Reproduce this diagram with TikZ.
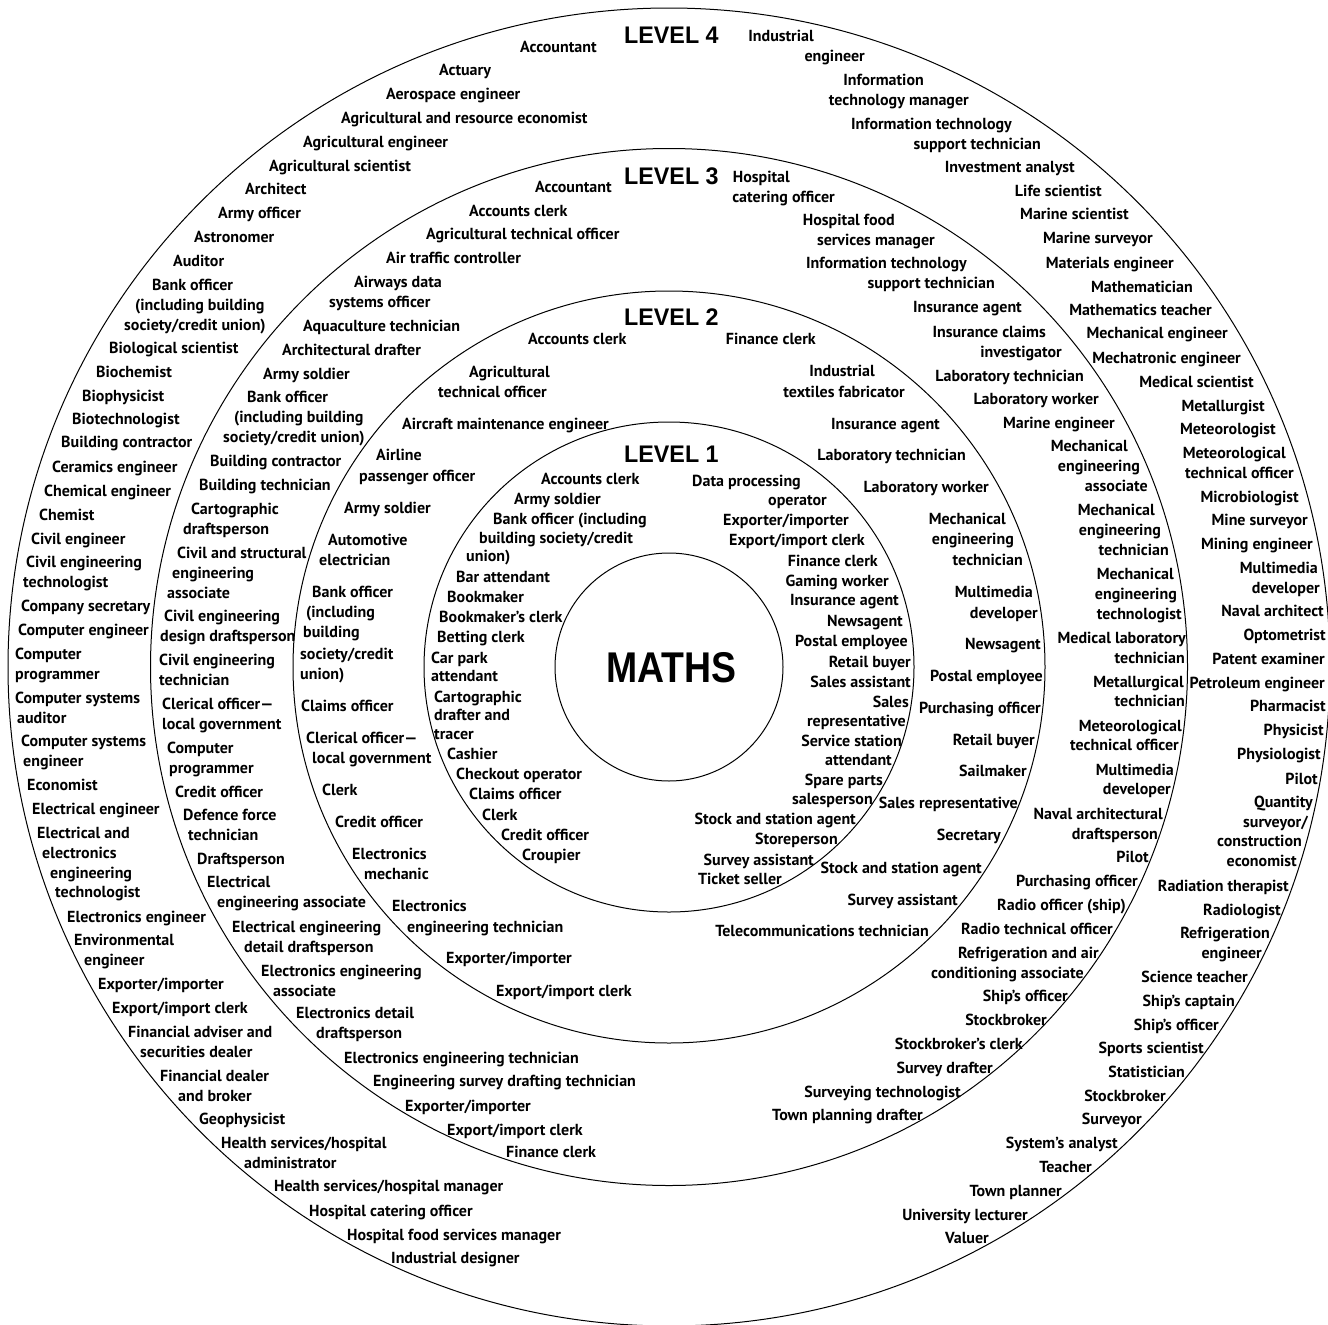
\documentclass[tikz,border=0pt]{standalone}
\usepackage{fontspec}
\setmainfont{PT Sans}
\newfontfamily\lvfont{Liberation Sans}
\tikzset{
  lblw/.style={anchor=base west, inner sep=0pt, font=\bfseries\fontsize{16}{18}\selectfont},
  lble/.style={anchor=base east, inner sep=0pt, font=\bfseries\fontsize{16}{18}\selectfont},
  lvl/.style={anchor=base west, inner sep=0pt, font=\lvfont\bfseries\fontsize{24}{24}\selectfont},
  ring/.style={line width=1pt, draw=black}
}
\begin{document}
\begin{tikzpicture}[x=1pt,y=-1pt]
\useasboundingbox (0,0) rectangle (1328,1325);
\coordinate (ctr) at (669,667);
\draw[ring] (ctr) ellipse [x radius=661, y radius=659];
\draw[ring] (ctr) circle [radius=518.5];
\draw[ring] (ctr) circle [radius=376];
\draw[ring] (ctr) circle [radius=245];
\draw[ring] (ctr) circle [radius=114];

\node[lvl] (lv4) at (624,43) {\scalebox{0.97}[1]{LEVEL 4}};
\node[lvl] (lv3) at (624,184) {\scalebox{0.97}[1]{LEVEL 3}};
\node[lvl] (lv2) at (624,325) {\scalebox{0.97}[1]{LEVEL 2}};
\node[lvl] (lv1) at (624,462) {\scalebox{0.97}[1]{LEVEL 1}};
\node[anchor=base west, inner sep=0pt, font=\lvfont\bfseries\fontsize{43}{43}\selectfont] (maths) at (606,682) {\scalebox{0.87}[1]{MATHS}};

% Level 4, left side
\foreach \x/\y/\s [count=\i] in {
520/52/{Accountant}, 439/75/{Actuary}, 386/99/{Aerospace engineer},
341/123/{Agricultural and resource economist}, 303/147/{Agricultural engineer},
269/171/{Agricultural scientist}, 245/194/{Architect}, 218/218/{Army officer},
194/242/{Astronomer}, 173/266/{Auditor}, 152/290/{Bank officer},
135/310/{(including building}, 124/330/{society/credit union)},
109/353/{Biological scientist}, 96/377/{Biochemist}, 82/401/{Biophysicist},
72/424/{Biotechnologist}, 61/447/{Building contractor}, 52/472/{Ceramics engineer},
44/496/{Chemical engineer}, 39/520/{Chemist}, 31/544/{Civil engineer},
26/567/{Civil engineering}, 23/587/{technologist}, 21/611/{Company secretary},
18/635/{Computer engineer}, 15/659/{Computer}, 15/679/{programmer},
15/703/{Computer systems}, 17/723/{auditor}, 21/746/{Computer systems},
23/766/{engineer}, 27/790/{Economist}, 32/814/{Electrical engineer},
37/838/{Electrical and}, 42/858/{electronics}, 50/878/{engineering},
55/897/{technologist}, 67/922/{Electronics engineer}, 74/945/{Environmental},
84/965/{engineer}, 98/989/{Exporter/importer}, 112/1013/{Export/import clerk},
128/1037/{Financial adviser and}, 140/1057/{securities dealer},
160/1081/{Financial dealer}, 178/1101/{and broker}, 199/1124/{Geophysicist},
221/1148/{Health services/hospital}, 244/1168/{administrator},
274/1191/{Health services/hospital manager}, 309/1216/{Hospital catering officer},
347/1240/{Hospital food services manager}, 391/1263/{Industrial designer}}
  {\node[lblw] (a\i) at (\x,\y) {\s};}

% Level 4, right side
\foreach \x/\y/\s [count=\i] in {
814/41/{Industrial}, 865/61/{engineer}, 924/85/{Information},
969/105/{technology manager}, 1012/129/{Information technology},
1041/149/{support technician}, 1075/172/{Investment analyst},
1102/196/{Life scientist}, 1129/219/{Marine scientist}, 1153/243/{Marine surveyor},
1174/268/{Materials engineer}, 1193/292/{Mathematician},
1212/315/{Mathematics teacher}, 1228/338/{Mechanical engineer},
1241/363/{Mechatronic engineer}, 1254/387/{Medical scientist},
1265/411/{Metallurgist}, 1276/434/{Meteorologist}, 1286/458/{Meteorological},
1294/478/{technical officer}, 1299/502/{Microbiologist}, 1308/525/{Mine surveyor},
1313/549/{Mining engineer}, 1318/573/{Multimedia}, 1320/593/{developer},
1324/616/{Naval architect}, 1326/640/{Optometrist}, 1325/664/{Patent examiner},
1325/688/{Petroleum engineer}, 1326/711/{Pharmacist}, 1324/735/{Physicist},
1321/759/{Physiologist}, 1318/784/{Pilot}, 1313/807/{Quantity},
1308/827/{surveyor/}, 1302/846/{construction}, 1297/866/{economist},
1289/891/{Radiation therapist}, 1281/915/{Radiologist}, 1270/938/{Refrigeration},
1262/958/{engineer}, 1248/982/{Science teacher}, 1235/1006/{Ship’s captain},
1219/1030/{Ship’s officer}, 1204/1053/{Sports scientist}, 1185/1077/{Statistician},
1166/1101/{Stockbroker}, 1142/1124/{Surveyor}, 1118/1148/{System’s analyst},
1092/1172/{Teacher}, 1062/1196/{Town planner}, 1028/1220/{University lecturer},
989/1243/{Valuer}}
  {\node[lble] (b\i) at (\x,\y) {\s};}

% Level 3, left side
\foreach \x/\y/\s [count=\i] in {
535/192/{Accountant}, 469/216/{Accounts clerk}, 426/239/{Agricultural technical officer},
386/263/{Air traffic controller}, 354/287/{Airways data}, 329/307/{systems officer},
303/331/{Aquaculture technician}, 282/355/{Architectural drafter},
263/379/{Army soldier}, 247/402/{Bank officer}, 234/422/{(including building},
223/442/{society/credit union)}, 210/466/{Building contractor},
199/490/{Building technician}, 191/514/{Cartographic}, 183/534/{draftsperson},
177/558/{Civil and structural}, 172/578/{engineering}, 167/598/{associate},
164/621/{Civil engineering}, 160/641/{design draftsperson}, 159/665/{Civil engineering},
159/685/{technician}, 162/709/{Clerical officer—}, 162/729/{local government},
167/753/{Computer}, 169/773/{programmer}, 175/797/{Credit officer},
183/820/{Defence force}, 188/840/{technician}, 197/864/{Draftsperson},
207/887/{Electrical}, 217/907/{engineering associate}, 232/932/{Electrical engineering},
244/952/{detail draftsperson}, 261/976/{Electronics engineering}, 273/996/{associate},
296/1018/{Electronics detail}, 316/1038/{draftsperson},
344/1063/{Electronics engineering technician},
373/1086/{Engineering survey drafting technician}, 405/1111/{Exporter/importer},
447/1135/{Export/import clerk}, 506/1157/{Finance clerk}}
  {\node[lblw] (c\i) at (\x,\y) {\s};}

% Level 3, right side
\foreach \x/\y/\s [count=\i] in {
790/182/{Hospital}, 835/202/{catering officer}, 895/225/{Hospital food},
935/245/{services manager}, 967/268/{Information technology},
995/288/{support technician}, 1022/312/{Insurance agent}, 1046/337/{Insurance claims},
1062/357/{investigator}, 1084/381/{Laboratory technician}, 1099/404/{Laboratory worker},
1115/428/{Marine engineer}, 1128/451/{Mechanical}, 1140/471/{engineering},
1148/491/{associate}, 1155/515/{Mechanical}, 1161/535/{engineering},
1169/555/{technician}, 1174/579/{Mechanical}, 1177/599/{engineering},
1182/619/{technologist}, 1186/643/{Medical laboratory}, 1185/663/{technician},
1184/687/{Metallurgical}, 1185/706/{technician}, 1182/731/{Meteorological},
1179/750/{technical officer}, 1174/775/{Multimedia}, 1171/794/{developer},
1163/819/{Naval architectural}, 1158/839/{draftsperson}, 1149/862/{Pilot},
1138/886/{Purchasing officer}, 1126/910/{Radio officer (ship)},
1113/934/{Radio technical officer}, 1099/958/{Refrigeration and air},
1084/978/{conditioning associate}, 1068/1001/{Ship’s officer}, 1047/1025/{Stockbroker},
1023/1049/{Stockbroker’s clerk}, 993/1073/{Survey drafter},
961/1097/{Surveying technologist}, 923/1120/{Town planning drafter}}
  {\node[lble] (d\i) at (\x,\y) {\s};}

% Level 2, left side
\foreach \x/\y/\s [count=\i] in {
528/344/{Accounts clerk}, 469/377/{Agricultural}, 438/397/{technical officer},
402/429/{Aircraft maintenance engineer}, 376/460/{Airline}, 359/481/{passenger officer},
344/513/{Army soldier}, 328/545/{Automotive}, 319/565/{electrician},
312/597/{Bank officer}, 306/617/{(including}, 303/637/{building},
300/659/{society/credit}, 300/679/{union)}, 301/711/{Claims officer},
306/743/{Clerical officer—}, 312/763/{local government}, 322/795/{Clerk},
335/827/{Credit officer}, 352/859/{Electronics}, 364/879/{mechanic},
392/911/{Electronics}, 407/932/{engineering technician}, 446/963/{Exporter/importer},
496/996/{Export/import clerk}}
  {\node[lblw] (e\i) at (\x,\y) {\s};}

% Level 2, right side
\foreach \x/\y/\s [count=\i] in {
816/344/{Finance clerk}, 875/376/{Industrial}, 905/397/{textiles fabricator},
940/429/{Insurance agent}, 966/460/{Laboratory technician}, 989/492/{Laboratory worker},
1006/524/{Mechanical}, 1014/544/{engineering}, 1023/565/{technician},
1033/597/{Multimedia}, 1038/618/{developer}, 1041/649/{Newsagent},
1043/681/{Postal employee}, 1041/713/{Purchasing officer}, 1035/745/{Retail buyer},
1027/776/{Sailmaker}, 1018/808/{Sales representative}, 1001/840/{Secretary},
982/873/{Stock and station agent}, 958/905/{Survey assistant},
929/936/{Telecommunications technician}}
  {\node[lble] (f\i) at (\x,\y) {\s};}

% Level 1, left side
\foreach \x/\y/\s [count=\i] in {
541/484/{Accounts clerk}, 514/504/{Army soldier}, 493/524/{Bank officer (including},
479/543/{building society/credit}, 466/561/{union)}, 456/582/{Bar attendant},
447/602/{Bookmaker}, 439/622/{Bookmaker’s clerk}, 437/642/{Betting clerk},
431/663/{Car park}, 431/681/{attendant}, 434/702/{Cartographic},
434/720/{drafter and}, 434/739/{tracer}, 447/759/{Cashier},
456/779/{Checkout operator}, 469/799/{Claims officer}, 482/820/{Clerk},
501/840/{Credit officer}, 522/860/{Croupier}}
  {\node[lblw] (g\i) at (\x,\y) {\s};}

% Level 1, right side
\foreach \x/\y/\s [count=\i] in {
801/486/{Data processing}, 827/505/{operator}, 849/525/{Exporter/importer},
865/545/{Export/import clerk}, 878/566/{Finance clerk}, 889/586/{Gaming worker},
899/605/{Insurance agent}, 903/626/{Newsagent}, 908/646/{Postal employee},
911/667/{Retail buyer}, 911/687/{Sales assistant}, 909/707/{Sales},
906/726/{representative}, 902/746/{Service station}, 892/765/{attendant},
883/785/{Spare parts}, 873/804/{salesperson}, 856/824/{Stock and station agent},
838/844/{Storeperson}, 814/865/{Survey assistant}, 782/884/{Ticket seller}}
  {\node[lble] (h\i) at (\x,\y) {\s};}
\end{tikzpicture}
\end{document}
